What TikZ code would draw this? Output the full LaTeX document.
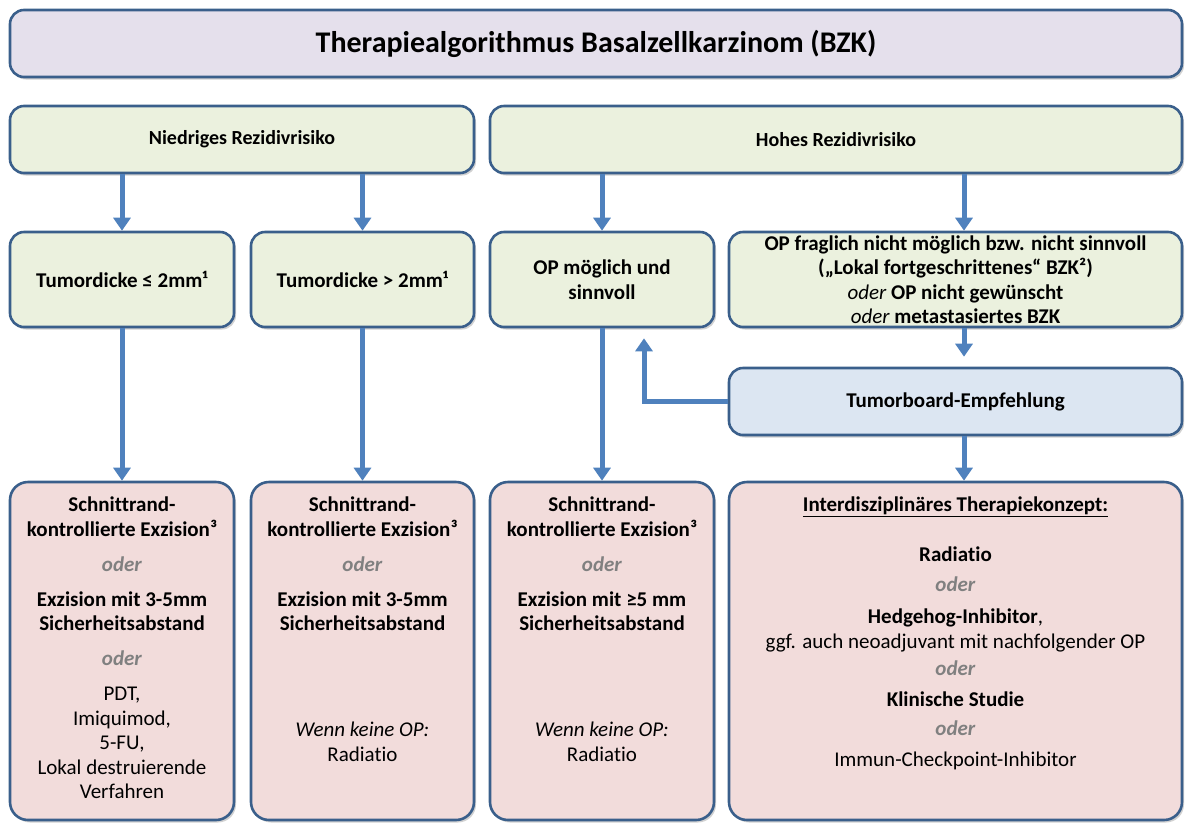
\documentclass[tikz,border=0pt]{standalone}
\usepackage{fontspec}
\setmainfont{Carlito}[Ligatures=NoCommon]
\usetikzlibrary{arrows.meta,shadows}
\definecolor{edge}{HTML}{3A5F8B}
\definecolor{flowblue}{HTML}{4F81BD}
\definecolor{headfill}{HTML}{E5E0EC}
\definecolor{riskfill}{HTML}{EBF1DE}
\definecolor{boardfill}{HTML}{DCE6F2}
\definecolor{therapyfill}{HTML}{F2DCDB}
\definecolor{odergray}{HTML}{808080}
\newcommand{\oder}{\textcolor{odergray}{\textbf{\textit{oder}}}}
\begin{document}
\begin{tikzpicture}[x=1pt, y=-1pt,
  box/.style={draw=edge, line width=2.6pt, rounded corners=14pt, align=center, inner sep=0pt,
    font=\bfseries\fontsize{21}{24.5}\selectfont,
    drop shadow={shadow xshift=2pt, shadow yshift=-2.5pt, opacity=0.3, fill=black!60}},
  riskbox/.style={box, fill=riskfill},
  therapybox/.style={box, fill=therapyfill, inner ysep=15pt, rounded corners=18pt},
  flow/.style={draw=flowblue, line width=5pt, -{Triangle[width=17pt,length=13pt]}}]
  \useasboundingbox (0,0) rectangle (1192,823);
  \node[box, fill=headfill, minimum width=1172, minimum height=67, font=\bfseries\fontsize{30}{36}\selectfont] (title) at (596,43.5) {Therapiealgorithmus Basalzellkarzinom (BZK)};
  \node[riskbox, minimum width=464, minimum height=67, font=\bfseries\fontsize{20}{24}\selectfont] (low) at (242,139.5) {Niedriges Rezidivrisiko};
  \node[riskbox, minimum width=692, minimum height=67, font=\bfseries\fontsize{20}{24}\selectfont] (high) at (836,139.5) {Hohes Rezidivrisiko};
  \node[riskbox, minimum width=224, minimum height=95] (thin) at (122,279.5) {Tumordicke ≤ 2mm¹};
  \node[riskbox, minimum width=223, minimum height=95] (thick) at (362.5,279.5) {Tumordicke > 2mm¹};
  \node[riskbox, minimum width=224, minimum height=95] (opyes) at (602,279.5) {OP möglich und\\sinnvoll};
  \node[riskbox, minimum width=453, minimum height=95] (opno) at (955.5,279.5) {OP fraglich nicht möglich bzw. nicht sinnvoll\\(„Lokal fortgeschrittenes“ BZK²)\\{\mdseries\itshape oder} OP nicht gewünscht\\{\mdseries\itshape oder} metastasiertes BZK};
  \node[box, fill=boardfill, minimum width=453, minimum height=67] (board) at (955.5,401.5) {Tumorboard-Empfehlung};
  \node[therapybox, minimum width=224] (exc1) at (122,651) {\begin{minipage}[t][308pt][t]{222pt}\centering
    Schnittrand-\\kontrollierte Exzision³\\[10.5pt]
    \oder\\[10.5pt]
    Exzision mit 3-5mm\\Sicherheitsabstand\\[10.5pt]
    \oder\\[10.5pt]
    \mdseries PDT,\\Imiquimod,\\5-FU,\\Lokal destruierende\\Verfahren
  \end{minipage}};
  \node[therapybox, minimum width=223] (exc2) at (362.5,651) {\begin{minipage}[t][308pt][t]{221pt}\centering
    Schnittrand-\\kontrollierte Exzision³\\[10.5pt]
    \oder\\[10.5pt]
    Exzision mit 3-5mm\\Sicherheitsabstand\\[81.5pt]
    \mdseries\textit{Wenn keine OP:}\\Radiatio
  \end{minipage}};
  \node[therapybox, minimum width=224] (exc3) at (602,651) {\begin{minipage}[t][308pt][t]{222pt}\centering
    Schnittrand-\\kontrollierte Exzision³\\[10.5pt]
    \oder\\[10.5pt]
    Exzision mit ≥5 mm\\Sicherheitsabstand\\[81.5pt]
    \mdseries\textit{Wenn keine OP:}\\Radiatio
  \end{minipage}};
  \node[therapybox, minimum width=453] (exc4) at (955.5,651) {\begin{minipage}[t][308pt][t]{451pt}\centering
    \underline{Interdisziplinäres Therapiekonzept:}\\[25.5pt]
    Radiatio\\[5.5pt]
    \oder\\[7.5pt]
    Hedgehog-Inhibitor{\mdseries ,}\\
    {\mdseries ggf. auch neoadjuvant mit nachfolgender OP}\\[2.5pt]
    \oder\\[6.5pt]
    Klinische Studie\\[4.5pt]
    \oder\\[6.5pt]
    {\mdseries Immun-Checkpoint-Inhibitor}
  \end{minipage}};
  \coordinate (axis) at (964,0);
  \coordinate (back) at (644,0);
  \draw[flow] (low.south -| thin.north) -- (thin.north);
  \draw[flow] (low.south -| thick.north) -- (thick.north);
  \draw[flow] (high.south -| opyes.north) -- (opyes.north);
  \draw[flow] (high.south -| axis) -- (opno.north -| axis);
  \draw[flow] (thin.south) -- (exc1.north);
  \draw[flow] (thick.south) -- (exc2.north);
  \draw[flow] (opyes.south) -- (exc3.north);
  \draw[flow, shorten >=10pt] (opno.south -| axis) -- (board.north -| axis);
  \draw[flow] (board.south -| axis) -- (exc4.north -| axis);
  \draw[flow, shorten >=10pt] (board.west) -| (opyes.south -| back);
\end{tikzpicture}
\end{document}
